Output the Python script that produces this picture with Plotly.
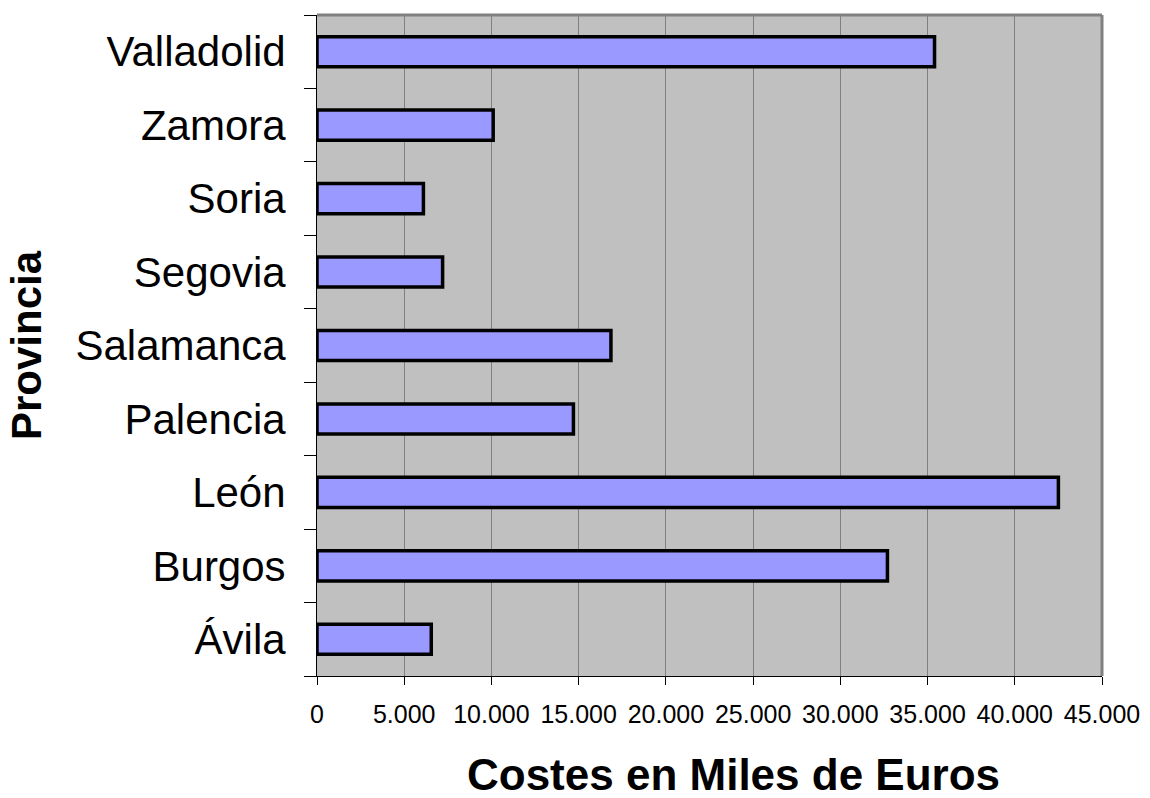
import plotly.graph_objects as go

provincias = ["Ávila", "Burgos", "León", "Palencia", "Salamanca", "Segovia", "Soria", "Zamora", "Valladolid"]
costes = [6550, 32700, 42500, 14700, 16850, 7200, 6100, 10100, 35400]
x_ticks = [0, 5000, 10000, 15000, 20000, 25000, 30000, 35000, 40000, 45000]

FONT = "Liberation Sans, Arial, sans-serif"

fig = go.Figure(
    go.Bar(
        y=provincias,
        x=costes,
        orientation="h",
        marker=dict(color="#9999FF", line=dict(color="#000000", width=3.5)),
    )
)

fig.update_layout(
    width=1150,
    height=798,
    margin=dict(l=317, r=48, t=15, b=122, autoexpand=False),
    paper_bgcolor="#FFFFFF",
    plot_bgcolor="#C0C0C0",
    separators=",.",
    bargap=0.59,
    showlegend=False,
    font=dict(family=FONT, color="#000000"),
    xaxis=dict(
        range=[0, 45000],
        tickvals=x_ticks,
        tickformat=",d",
        tickfont=dict(size=25, family=FONT),
        ticklabelstandoff=8,
        automargin=False,
        showgrid=True,
        gridcolor="#808080",
        gridwidth=1,
        zeroline=False,
        showline=True,
        linecolor="#000000",
        linewidth=1,
        ticks="outside",
        ticklen=8,
        tickcolor="#000000",
    ),
    yaxis=dict(
        categoryorder="array",
        categoryarray=provincias,
        tickson="boundaries",
        ticks="outside",
        ticklen=12,
        tickcolor="#000000",
        tickfont=dict(size=42, family=FONT),
        ticklabelstandoff=22,
        automargin=False,
        showgrid=False,
        showline=True,
        linecolor="#000000",
        linewidth=1,
        title=dict(
            text="<b>Provincia</b>",
            font=dict(size=42, family=FONT),
            standoff=20,
        ),
    ),
    annotations=[
        dict(
            text="<b>Costes en Miles de Euros</b>",
            xref="paper", yref="paper",
            x=0.531, y=0, yshift=-98,
            xanchor="center", yanchor="middle",
            showarrow=False,
            font=dict(size=44, family=FONT, color="#000000"),
        )
    ],
    shapes=[
        dict(type="line", xref="paper", yref="paper", x0=0, x1=1, y0=1, y1=1,
             line=dict(color="#808080", width=3)),
        dict(type="line", xref="paper", yref="paper", x0=1, x1=1, y0=0, y1=1,
             line=dict(color="#808080", width=3)),
    ],
)

fig.write_html("out.html")
